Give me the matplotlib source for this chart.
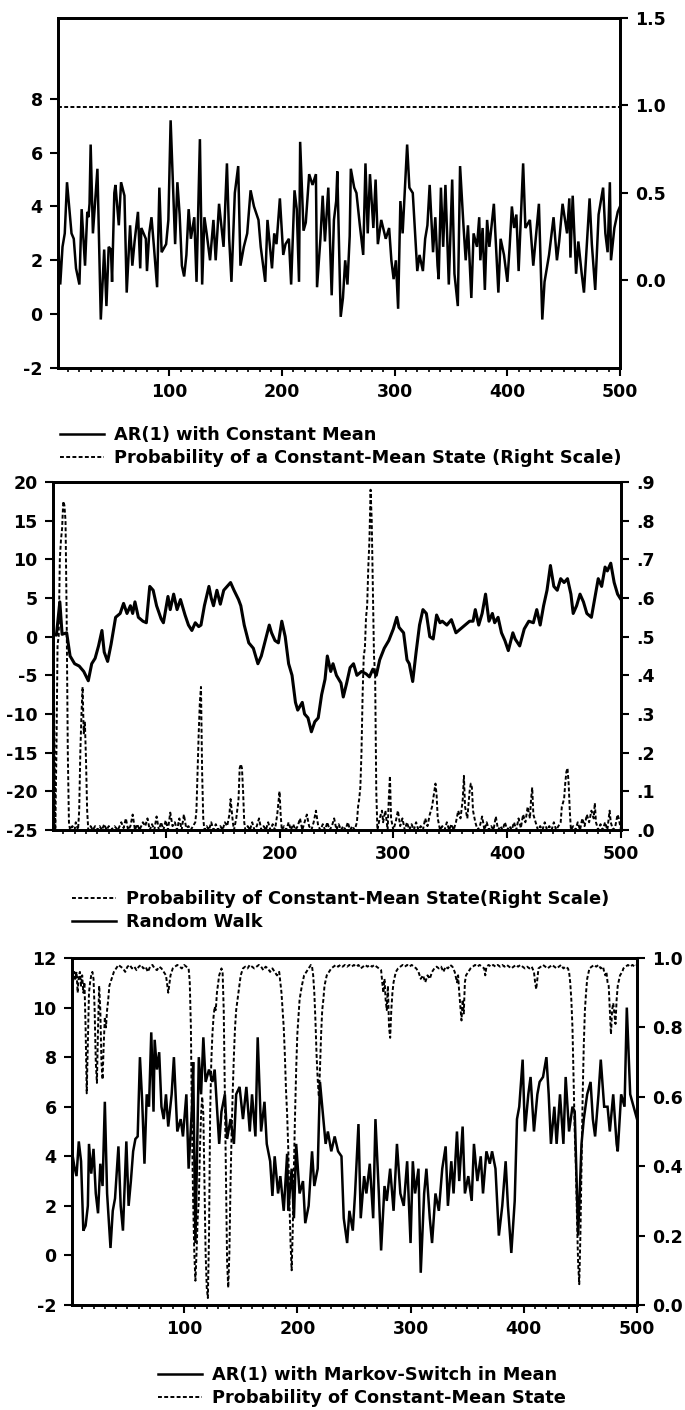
import numpy as np
import matplotlib.pyplot as plt
from matplotlib.ticker import MultipleLocator, FixedLocator
from matplotlib.lines import Line2D

plt.rcParams['font.family'] = ['DejaVu Sans']
plt.rcParams['font.weight'] = 'bold'
plt.rcParams['axes.unicode_minus'] = False

# --- panel 1: AR(1) with constant mean ---
ar_t = [1, 3, 5, 7, 9, 13, 15, 17, 20, 22, 25, 27, 28, 29, 30, 32, 34, 36, 39, 41,
        42, 44, 46, 48, 49, 51, 52, 55, 57, 60, 62, 65, 67, 69, 72, 74, 75, 79, 80, 82,
        84, 86, 89, 91, 93, 97, 99, 101, 104, 105, 107, 109, 111, 113, 115, 117, 119, 122, 124, 127,
        129, 131, 133, 136, 139, 141, 144, 148, 151, 153, 155, 158, 161, 163, 166, 169, 172, 175, 179, 181,
        185, 187, 191, 193, 195, 198, 201, 203, 206, 208, 211, 213, 215, 216, 219, 221, 224, 227, 230, 231,
        234, 236, 238, 241, 244, 246, 248, 249, 252, 254, 256, 258, 260, 261, 264, 266, 269, 272, 274, 276,
        278, 281, 283, 285, 288, 292, 295, 297, 299, 301, 303, 305, 307, 311, 313, 316, 320, 322, 325, 327,
        329, 331, 334, 336, 338, 339, 341, 343, 345, 348, 351, 353, 356, 358, 361, 363, 365, 368, 370, 373,
        375, 376, 378, 380, 382, 384, 388, 392, 394, 397, 400, 402, 404, 406, 408, 410, 414, 416, 420, 423,
        428, 431, 433, 437, 441, 444, 446, 449, 453, 455, 456, 458, 461, 463, 466, 468, 473, 475, 478, 481,
        485, 487, 489, 491, 492, 495, 498, 500]
ar_y = [2.8, 1.1, 2.5, 3.0, 4.9, 3.0, 2.8, 1.7, 1.1, 3.9, 1.8, 3.8, 3.6, 4.1, 6.3, 3.0, 4.2, 5.4, -0.2, 1.5,
        2.4, 0.3, 2.5, 2.4, 1.2, 4.5, 4.8, 3.3, 4.9, 4.4, 0.8, 3.3, 1.8, 2.7, 3.8, 1.7, 3.2, 2.8, 1.6, 3.0,
        3.6, 2.6, 1.0, 4.7, 2.3, 2.6, 3.5, 7.2, 3.8, 2.6, 4.9, 3.7, 1.8, 1.4, 2.2, 3.9, 2.8, 3.6, 1.2, 6.5,
        1.1, 3.6, 3.0, 2.0, 3.5, 2.0, 4.1, 2.5, 5.6, 2.8, 1.2, 4.5, 5.5, 1.8, 2.5, 3.0, 4.6, 4.0, 3.5, 2.5,
        1.2, 3.5, 1.7, 3.0, 2.6, 4.3, 2.2, 2.6, 2.8, 1.1, 4.6, 3.9, 1.2, 6.4, 3.1, 3.4, 5.2, 4.8, 5.2, 1.0,
        2.8, 4.4, 2.7, 4.7, 0.7, 3.5, 4.2, 5.3, -0.1, 0.6, 2.0, 1.1, 2.9, 5.4, 4.7, 4.5, 3.3, 2.2, 5.6, 3.0,
        5.2, 3.2, 5.0, 2.6, 3.5, 2.8, 3.2, 2.0, 1.3, 2.0, 0.2, 4.2, 3.0, 6.3, 4.7, 4.5, 1.6, 2.2, 1.6, 2.8,
        3.3, 4.8, 2.3, 3.6, 1.8, 1.3, 4.7, 2.5, 4.8, 1.1, 5.0, 1.5, 0.3, 5.5, 3.3, 2.0, 3.3, 0.6, 3.0, 2.5,
        3.6, 2.0, 3.2, 0.9, 3.5, 2.5, 4.1, 0.8, 2.8, 2.2, 1.2, 2.5, 4.0, 3.2, 3.7, 1.6, 5.6, 3.2, 3.5, 1.8,
        4.1, -0.2, 1.2, 2.2, 3.6, 2.0, 2.7, 4.1, 3.0, 4.3, 2.1, 4.4, 1.5, 2.7, 1.5, 0.8, 4.3, 2.6, 0.9, 3.7,
        4.7, 3.0, 2.3, 4.9, 2.0, 3.2, 3.8, 4.0]
const_prob_t = [1, 500]
const_prob = [0.99, 0.99]

# --- panel 2: random walk ---
rw_t = [1, 4, 7, 9, 13, 16, 20, 24, 28, 32, 35, 38, 41, 44, 46, 49, 52, 56, 60, 63,
        66, 69, 71, 73, 76, 80, 83, 86, 89, 92, 96, 98, 102, 104, 107, 110, 113, 117, 120, 123,
        126, 129, 131, 134, 138, 140, 142, 145, 148, 151, 154, 157, 160, 164, 166, 169, 173, 177, 181, 184,
        187, 191, 193, 196, 199, 202, 205, 208, 211, 214, 216, 220, 222, 225, 228, 231, 234, 237, 240, 242,
        245, 247, 250, 254, 256, 259, 262, 265, 268, 272, 276, 279, 282, 285, 288, 292, 296, 300, 303, 305,
        309, 312, 314, 317, 320, 323, 326, 329, 332, 335, 338, 341, 343, 347, 351, 355, 359, 363, 367, 370,
        372, 375, 378, 381, 384, 387, 389, 392, 395, 398, 401, 405, 407, 411, 415, 419, 423, 426, 429, 432,
        435, 438, 441, 444, 447, 450, 453, 456, 458, 461, 464, 467, 470, 474, 477, 480, 483, 486, 488, 491,
        494, 497, 500]
rw_y = [0.3, 0.2, 4.5, 0.3, 0.5, -2.5, -3.5, -3.8, -4.5, -5.7, -3.5, -2.8, -1.2, 0.8, -2.0, -3.2, -1.0, 2.5, 3.0, 4.3,
        3.0, 4.0, 3.0, 4.5, 2.5, 2.0, 1.8, 6.5, 6.0, 4.0, 2.3, 1.8, 5.2, 3.5, 5.5, 3.5, 4.8, 2.8, 1.5, 0.8,
        1.8, 1.3, 1.5, 4.0, 6.5, 5.0, 4.0, 6.0, 4.2, 6.0, 6.5, 7.0, 6.0, 4.8, 4.0, 1.5, -0.8, -1.5, -3.5, -2.5,
        -0.8, 1.5, 0.5, -0.5, -0.8, 2.0, 0.0, -3.5, -5.0, -8.5, -9.5, -8.5, -10.0, -10.5, -12.3, -11.0, -10.5, -7.5, -5.5, -2.5,
        -4.5, -3.5, -5.0, -6.0, -7.8, -6.0, -4.0, -3.5, -5.0, -4.5, -4.8, -5.2, -4.2, -5.0, -3.0, -1.5, -0.5, 1.0, 2.5, 1.2,
        0.5, -3.0, -3.5, -5.8, -2.0, 1.5, 3.5, 3.0, 0.0, -0.3, 2.8, 1.8, 2.0, 1.5, 2.2, 0.5, 1.0, 1.5, 2.0, 2.0,
        3.5, 1.5, 3.0, 5.5, 2.0, 3.0, 1.8, 2.5, 0.5, -0.5, -1.8, 0.5, -0.3, -1.2, 1.0, 2.0, 1.8, 3.5, 1.5, 4.0,
        6.0, 9.2, 6.5, 6.0, 7.5, 7.0, 7.5, 5.5, 3.0, 4.0, 5.5, 4.5, 3.0, 2.5, 5.0, 7.5, 6.5, 9.0, 8.5, 9.5,
        7.0, 5.5, 4.8]
rw_prob_t = [1, 2, 3, 4, 5, 6, 7, 8, 9, 10, 11, 12, 13, 14, 15, 16, 18, 20, 21, 23,
             24, 25, 26, 27, 28, 29, 30, 31, 32, 34, 36, 38, 40, 42, 44, 46, 48, 50, 52, 55,
             58, 61, 63, 65, 67, 69, 71, 73, 75, 77, 80, 82, 84, 86, 88, 90, 92, 94, 96, 98,
             100, 102, 104, 106, 108, 110, 112, 114, 116, 118, 120, 122, 124, 126, 127, 128, 129, 130, 131, 132,
             133, 134, 136, 138, 140, 142, 144, 146, 148, 150, 152, 154, 156, 157, 158, 159, 160, 162, 164, 165,
             166, 167, 168, 169, 170, 172, 174, 176, 178, 180, 182, 184, 186, 188, 190, 192, 194, 196, 198, 200,
             201, 202, 204, 206, 208, 210, 212, 214, 216, 218, 220, 222, 224, 226, 228, 230, 232, 234, 236, 238,
             240, 242, 244, 246, 248, 250, 252, 254, 256, 258, 260, 262, 264, 266, 268, 269, 270, 271, 272, 273,
             274, 275, 276, 277, 278, 279, 280, 281, 282, 283, 284, 285, 286, 288, 290, 291, 293, 295, 296, 297,
             298, 300, 302, 304, 306, 308, 310, 312, 314, 316, 318, 320, 322, 324, 326, 328, 330, 332, 334, 336,
             337, 338, 339, 341, 343, 345, 347, 349, 351, 353, 355, 357, 359, 361, 362, 363, 365, 367, 368, 369,
             370, 372, 374, 376, 378, 380, 382, 384, 386, 388, 390, 392, 394, 396, 398, 400, 402, 404, 406, 408,
             410, 412, 414, 416, 418, 420, 421, 422, 423, 425, 427, 429, 431, 433, 435, 437, 439, 441, 443, 445,
             447, 448, 450, 451, 452, 453, 454, 455, 456, 458, 460, 462, 464, 466, 468, 470, 472, 474, 476, 477,
             478, 480, 482, 484, 486, 488, 490, 491, 493, 495, 497, 498, 500]
rw_prob = [0.90, 0.30, 0.00, 0.20, 0.48, 0.50, 0.70, 0.75, 0.78, 0.85, 0.84, 0.80, 0.55, 0.20, 0.02, 0.00, 0.01, 0.00, 0.02, 0.00,
           0.05, 0.20, 0.30, 0.37, 0.25, 0.28, 0.18, 0.05, 0.00, 0.01, 0.00, 0.01, 0.00, 0.01, 0.00, 0.015, 0.00, 0.01, 0.00, 0.01,
           0.00, 0.02, 0.005, 0.03, 0.00, 0.01, 0.04, 0.00, 0.015, 0.00, 0.02, 0.01, 0.03, 0.00, 0.015, 0.00, 0.035, 0.00, 0.02, 0.00,
           0.025, 0.00, 0.045, 0.01, 0.02, 0.00, 0.03, 0.00, 0.04, 0.005, 0.01, 0.00, 0.01, 0.02, 0.05, 0.15, 0.25, 0.33, 0.37, 0.15,
           0.03, 0.00, 0.01, 0.00, 0.02, 0.00, 0.015, 0.00, 0.01, 0.00, 0.02, 0.01, 0.04, 0.08, 0.05, 0.02, 0.00, 0.03, 0.08, 0.16,
           0.17, 0.16, 0.10, 0.02, 0.00, 0.01, 0.00, 0.02, 0.00, 0.01, 0.03, 0.00, 0.01, 0.00, 0.02, 0.00, 0.015, 0.00, 0.04, 0.10,
           0.04, 0.00, 0.01, 0.00, 0.02, 0.00, 0.015, 0.00, 0.01, 0.03, 0.00, 0.02, 0.04, 0.01, 0.00, 0.02, 0.05, 0.01, 0.00, 0.015,
           0.00, 0.02, 0.00, 0.01, 0.03, 0.00, 0.015, 0.00, 0.01, 0.00, 0.02, 0.00, 0.01, 0.00, 0.02, 0.06, 0.08, 0.11, 0.20, 0.35,
           0.45, 0.47, 0.55, 0.58, 0.68, 0.75, 0.88, 0.80, 0.62, 0.45, 0.40, 0.10, 0.00, 0.03, 0.05, 0.02, 0.05, 0.00, 0.08, 0.14,
           0.03, 0.00, 0.02, 0.05, 0.01, 0.03, 0.00, 0.02, 0.00, 0.015, 0.00, 0.02, 0.00, 0.01, 0.00, 0.03, 0.01, 0.04, 0.06, 0.10,
           0.12, 0.09, 0.03, 0.00, 0.01, 0.00, 0.02, 0.00, 0.015, 0.00, 0.02, 0.05, 0.03, 0.08, 0.14, 0.06, 0.03, 0.10, 0.12, 0.11,
           0.05, 0.02, 0.00, 0.01, 0.035, 0.00, 0.02, 0.00, 0.01, 0.00, 0.035, 0.00, 0.01, 0.00, 0.02, 0.00, 0.01, 0.00, 0.02, 0.00,
           0.03, 0.005, 0.04, 0.02, 0.06, 0.03, 0.08, 0.11, 0.04, 0.02, 0.00, 0.01, 0.00, 0.02, 0.00, 0.01, 0.00, 0.02, 0.00, 0.01,
           0.02, 0.06, 0.08, 0.12, 0.15, 0.16, 0.12, 0.05, 0.00, 0.01, 0.00, 0.02, 0.00, 0.03, 0.01, 0.04, 0.02, 0.05, 0.03, 0.07,
           0.02, 0.00, 0.015, 0.00, 0.02, 0.00, 0.05, 0.02, 0.00, 0.01, 0.04, 0.03, 0.00]

# --- panel 3: AR(1) with Markov switch in mean ---
ms_t = [1, 3, 5, 7, 9, 11, 13, 15, 16, 18, 20, 22, 24, 26, 28, 30, 32, 35, 37, 39,
        42, 44, 46, 49, 51, 53, 55, 57, 59, 61, 63, 65, 67, 69, 71, 73, 74, 76, 78, 80,
        82, 84, 86, 89, 91, 94, 97, 99, 102, 104, 107, 108, 110, 113, 115, 117, 119, 122, 125, 127,
        131, 133, 136, 138, 141, 144, 146, 149, 152, 155, 158, 160, 163, 165, 168, 171, 173, 176, 178, 180,
        183, 185, 188, 191, 192, 195, 197, 199, 202, 205, 207, 210, 213, 215, 218, 220, 223, 225, 227, 230,
        233, 236, 239, 241, 244, 246, 249, 251, 254, 256, 259, 261, 264, 267, 269, 272, 274, 277, 279, 282,
        285, 288, 291, 294, 297, 300, 302, 304, 307, 309, 312, 314, 317, 319, 322, 325, 328, 331, 333, 336,
        338, 341, 343, 346, 348, 351, 354, 356, 359, 362, 364, 367, 370, 372, 375, 378, 381, 384, 386, 389,
        392, 394, 396, 399, 401, 404, 406, 409, 412, 414, 417, 420, 422, 424, 427, 429, 432, 435, 437, 440,
        443, 445, 448, 451, 453, 456, 459, 461, 463, 466, 468, 471, 474, 476, 479, 482, 483, 486, 489, 491,
        494, 497, 500]
ms_y = [4.2, 3.6, 3.2, 4.6, 3.8, 1.0, 1.2, 2.0, 4.5, 3.3, 4.3, 2.5, 1.7, 3.7, 2.8, 6.2, 2.5, 0.3, 1.8, 2.3,
        4.4, 2.0, 1.0, 4.6, 2.0, 3.0, 4.2, 4.7, 4.8, 8.0, 6.2, 3.7, 6.5, 6.0, 9.0, 5.8, 8.7, 7.5, 8.2, 6.0,
        5.5, 6.5, 5.2, 6.5, 8.0, 5.0, 5.5, 4.8, 6.5, 3.5, 6.0, 7.8, 0.5, 8.0, 6.5, 8.8, 7.0, 7.5, 7.0, 7.5,
        4.5, 5.8, 6.5, 4.7, 5.5, 4.5, 6.5, 6.8, 5.5, 6.8, 5.0, 6.5, 4.8, 8.8, 5.0, 6.2, 4.5, 3.8, 2.4, 4.0,
        2.5, 3.2, 1.8, 4.1, 1.8, 3.5, 1.5, 4.5, 2.5, 3.0, 1.3, 2.0, 4.2, 2.8, 3.5, 7.0, 5.5, 4.5, 5.0, 4.2,
        4.8, 4.2, 4.0, 1.5, 0.5, 1.8, 1.0, 2.5, 5.3, 1.5, 3.2, 2.5, 3.7, 1.5, 5.5, 2.5, 0.2, 2.8, 2.2, 3.5,
        1.8, 4.5, 2.5, 2.0, 3.8, 0.5, 3.8, 2.5, 3.5, -0.7, 2.5, 3.5, 1.5, 0.5, 2.5, 1.8, 3.5, 4.4, 2.0, 3.8,
        2.5, 5.0, 3.0, 5.2, 2.5, 3.2, 2.2, 4.5, 3.0, 4.0, 2.5, 4.2, 3.7, 4.2, 3.5, 0.8, 2.0, 3.8, 2.0, 0.1,
        2.2, 5.5, 6.0, 7.9, 5.0, 6.5, 7.2, 5.0, 6.5, 7.0, 7.2, 8.0, 6.5, 4.5, 6.0, 4.5, 6.5, 4.5, 7.2, 5.0,
        6.0, 5.8, 0.8, 4.5, 5.5, 6.5, 7.0, 5.5, 4.8, 6.5, 7.9, 6.0, 6.0, 5.0, 6.5, 4.5, 4.2, 6.5, 6.0, 10.0,
        6.5, 6.0, 5.5]
ms_prob_t = [1, 2, 3, 4, 5, 6, 7, 8, 9, 10, 11, 12, 13, 14, 15, 16, 17, 18, 19, 20,
             21, 22, 23, 24, 25, 26, 27, 28, 29, 30, 31, 32, 33, 34, 36, 38, 40, 42, 44, 46,
             48, 50, 52, 54, 56, 58, 60, 62, 64, 66, 68, 70, 72, 74, 76, 78, 80, 82, 84, 86,
             88, 90, 92, 94, 96, 98, 100, 102, 104, 105, 106, 107, 108, 109, 110, 111, 112, 113, 114, 115,
             116, 117, 118, 119, 120, 121, 122, 123, 124, 125, 126, 127, 128, 129, 131, 133, 134, 135, 136, 137,
             138, 139, 140, 141, 142, 143, 144, 145, 146, 148, 150, 152, 154, 156, 158, 160, 162, 164, 166, 168,
             170, 172, 174, 176, 178, 180, 182, 184, 185, 186, 187, 188, 189, 190, 191, 192, 193, 194, 195, 196,
             197, 198, 199, 200, 202, 204, 206, 208, 210, 212, 213, 214, 215, 216, 217, 218, 219, 220, 221, 222,
             223, 224, 226, 228, 230, 232, 234, 236, 238, 240, 242, 244, 246, 248, 250, 252, 254, 256, 258, 260,
             262, 264, 266, 268, 270, 272, 274, 275, 276, 277, 278, 279, 280, 281, 282, 283, 284, 285, 287, 289,
             291, 293, 295, 297, 299, 301, 303, 305, 307, 309, 311, 313, 315, 317, 319, 321, 323, 325, 327, 329,
             331, 333, 335, 337, 339, 341, 342, 343, 344, 345, 346, 347, 348, 349, 351, 353, 355, 357, 359, 361,
             363, 365, 366, 367, 369, 371, 373, 375, 377, 379, 381, 383, 385, 387, 389, 391, 393, 395, 397, 399,
             401, 403, 405, 407, 409, 410, 411, 412, 413, 415, 417, 419, 421, 423, 425, 427, 429, 431, 433, 435,
             437, 439, 440, 441, 442, 443, 444, 445, 446, 447, 448, 449, 450, 451, 452, 453, 454, 455, 456, 458,
             460, 462, 464, 466, 468, 470, 471, 472, 473, 474, 475, 476, 477, 478, 479, 480, 481, 482, 483, 485,
             487, 488, 490, 492, 494, 496, 498, 500]
ms_prob = [0.96, 0.93, 0.96, 0.94, 0.96, 0.90, 0.95, 0.96, 0.92, 0.95, 0.90, 0.93, 0.80, 0.61, 0.75, 0.90, 0.93, 0.95, 0.96, 0.94,
           0.85, 0.70, 0.64, 0.80, 0.92, 0.85, 0.70, 0.65, 0.75, 0.83, 0.80, 0.85, 0.88, 0.92, 0.94, 0.96, 0.97, 0.98, 0.975, 0.97,
           0.96, 0.975, 0.98, 0.97, 0.975, 0.965, 0.975, 0.98, 0.97, 0.975, 0.96, 0.975, 0.98, 0.97, 0.965, 0.975, 0.97, 0.96, 0.95, 0.90,
           0.95, 0.97, 0.975, 0.98, 0.975, 0.97, 0.98, 0.975, 0.97, 0.93, 0.80, 0.50, 0.30, 0.15, 0.07, 0.15, 0.25, 0.30, 0.45, 0.55,
           0.60, 0.55, 0.35, 0.15, 0.05, 0.02, 0.20, 0.55, 0.70, 0.78, 0.83, 0.86, 0.85, 0.90, 0.95, 0.97, 0.96, 0.85, 0.60, 0.35,
           0.12, 0.05, 0.15, 0.35, 0.50, 0.62, 0.72, 0.80, 0.85, 0.90, 0.95, 0.97, 0.975, 0.97, 0.98, 0.975, 0.97, 0.975, 0.98, 0.975,
           0.965, 0.975, 0.97, 0.96, 0.97, 0.96, 0.95, 0.96, 0.93, 0.90, 0.85, 0.80, 0.72, 0.62, 0.55, 0.45, 0.30, 0.18, 0.10, 0.22,
           0.40, 0.55, 0.68, 0.78, 0.88, 0.92, 0.95, 0.96, 0.97, 0.98, 0.975, 0.95, 0.90, 0.82, 0.72, 0.65, 0.60, 0.68, 0.78, 0.85,
           0.88, 0.92, 0.95, 0.96, 0.97, 0.975, 0.98, 0.975, 0.98, 0.975, 0.98, 0.975, 0.98, 0.975, 0.98, 0.975, 0.98, 0.97, 0.975, 0.98,
           0.975, 0.98, 0.975, 0.98, 0.975, 0.97, 0.965, 0.93, 0.90, 0.94, 0.88, 0.85, 0.92, 0.80, 0.77, 0.85, 0.90, 0.93, 0.96, 0.97,
           0.975, 0.98, 0.975, 0.98, 0.975, 0.98, 0.975, 0.97, 0.96, 0.94, 0.95, 0.93, 0.95, 0.94, 0.96, 0.97, 0.975, 0.97, 0.975, 0.96,
           0.975, 0.97, 0.98, 0.975, 0.96, 0.93, 0.95, 0.90, 0.86, 0.82, 0.88, 0.84, 0.93, 0.95, 0.96, 0.97, 0.975, 0.98, 0.975, 0.98,
           0.975, 0.97, 0.95, 0.975, 0.98, 0.975, 0.98, 0.975, 0.98, 0.975, 0.98, 0.975, 0.98, 0.975, 0.97, 0.975, 0.98, 0.975, 0.98, 0.975,
           0.97, 0.975, 0.97, 0.975, 0.96, 0.93, 0.91, 0.94, 0.97, 0.975, 0.98, 0.975, 0.97, 0.975, 0.98, 0.975, 0.97, 0.975, 0.98, 0.97,
           0.975, 0.97, 0.96, 0.93, 0.88, 0.80, 0.65, 0.50, 0.40, 0.25, 0.12, 0.06, 0.20, 0.40, 0.60, 0.75, 0.85, 0.90, 0.94, 0.97,
           0.975, 0.98, 0.975, 0.98, 0.97, 0.975, 0.96, 0.95, 0.96, 0.93, 0.92, 0.85, 0.78, 0.85, 0.87, 0.84, 0.81, 0.88, 0.92, 0.95,
           0.96, 0.97, 0.975, 0.98, 0.975, 0.98, 0.975, 0.98]

W, H = 685, 1410
fig = plt.figure(figsize=(W / 100, H / 100), dpi=100)

SOLID = dict(color='black', lw=1.8, solid_joinstyle='miter')
WALK = dict(color='black', lw=2.2)
DASH = dict(color='black', lw=1.4, linestyle=(0, (2.0, 1.2)))
FS = 12.5


def box(l, t, r, b):
    # pixel box -> figure fraction rect
    return [l / W, 1 - b / H, (r - l) / W, (b - t) / H]


def style(ax, ax2, yl, yt, yr, yrt, yrlab):
    ax.set_xlim(1, 500)
    ax.set_ylim(*yl)
    ax.set_yticks(yt)
    ax.set_yticklabels([f'{v:g}' for v in yt])
    ax.xaxis.set_major_locator(FixedLocator([100, 200, 300, 400, 500]))
    ax.xaxis.set_minor_locator(MultipleLocator(10))
    ax.tick_params(axis='both', which='major', direction='out', length=6, width=1.5,
                   labelsize=FS, pad=5)
    ax.tick_params(axis='x', which='minor', direction='out', length=3, width=1.2)
    ax2.set_ylim(*yr)
    ax2.set_yticks(yrt)
    ax2.set_yticklabels(yrlab)
    ax2.tick_params(axis='y', direction='out', length=6, width=1.5, labelsize=FS, pad=5)
    for a in (ax, ax2):
        for s in a.spines.values():
            s.set_linewidth(2.0)


def legend(handles, labels, x, y):
    fig.legend(handles, labels, loc='upper left', bbox_to_anchor=(x / W, 1 - y / H),
               frameon=False, borderpad=0, borderaxespad=0, handlelength=2.5,
               handletextpad=0.55, labelspacing=0.27, prop=dict(size=12.8, weight='bold'))


h_solid = Line2D([], [], color='black', lw=1.8)
h_dash = Line2D([], [], **DASH)

# panel 1
ax1 = fig.add_axes(box(58, 18, 620, 368))
ax1r = ax1.twinx()
ax1.plot(ar_t, ar_y, **SOLID)
ax1r.plot(const_prob_t, const_prob, **DASH)
style(ax1, ax1r, (-2, 11), [-2, 0, 2, 4, 6, 8], (-0.5, 1.5),
      [0, 0.5, 1.0, 1.5], ['0.0', '0.5', '1.0', '1.5'])
legend([h_solid, h_dash], ['AR(1) with Constant Mean',
                           'Probability of a Constant-Mean State (Right Scale)'], 60, 426)

# panel 2
ax2 = fig.add_axes(box(53, 482, 621, 830))
ax2r = ax2.twinx()
ax2.plot(rw_t, rw_y, **WALK)
ax2r.plot(rw_prob_t, rw_prob, **DASH)
rt = np.round(np.arange(0, 0.91, 0.1), 1)
style(ax2, ax2r, (-25, 20), list(range(-25, 21, 5)), (0, 0.9),
      rt, ['.' + str(int(round(v * 10))) for v in rt])
legend([h_dash, h_solid], ['Probability of Constant-Mean State(Right Scale)',
                           'Random Walk'], 72, 890)

# panel 3
ax3 = fig.add_axes(box(72, 958, 637, 1305))
ax3r = ax3.twinx()
ax3.plot(ms_t, ms_y, **SOLID)
ax3r.plot(ms_prob_t, ms_prob, **DASH)
rt3 = np.round(np.arange(0, 1.01, 0.2), 1)
style(ax3, ax3r, (-2, 12), list(range(-2, 13, 2)), (0, 1.0),
      rt3, [f'{v:.1f}' for v in rt3])
legend([h_solid, h_dash], ['AR(1) with Markov-Switch in Mean',
                           'Probability of Constant-Mean State'], 158, 1366)

fig.savefig('out.png', dpi=100)
